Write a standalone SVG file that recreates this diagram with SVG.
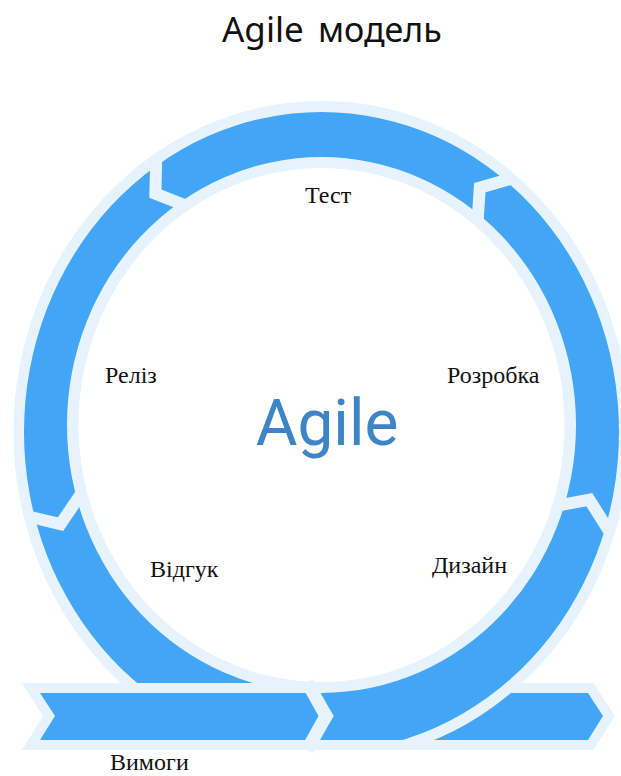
<svg xmlns="http://www.w3.org/2000/svg" width="621" height="776" viewBox="0 0 621 776">
<defs>
<style>
.pale{fill:#e6f3fd}
.blue{fill:#42a5f5}
.chev{fill:none;stroke:#e6f3fd;stroke-width:12;stroke-linejoin:miter}
.seg{stroke:#e6f3fd;stroke-width:20;stroke-linejoin:miter;fill:#e6f3fd}
.lbl{font-family:"Liberation Serif","Times New Roman",serif;font-size:24px;fill:#111}
.title{font-family:"Noto Sans","Open Sans",sans-serif;font-size:34px;fill:#111}
.center{font-family:Roboto,"Noto Sans",sans-serif;font-size:64px;fill:#3d85c6}
</style>
<clipPath id="clipPale"><rect x="0" y="0" width="621" height="750"/></clipPath>
<clipPath id="clipBlue"><rect x="0" y="0" width="621" height="740"/></clipPath>
<clipPath id="clipRing"><ellipse cx="321.5" cy="432" rx="308" ry="331"/></clipPath>
</defs>
<rect width="621" height="776" fill="#ffffff"/>
<g id="title"><text class="title" x="222" y="42" style="font-size:35px">Agile</text><text class="title" x="318" y="42">модель</text></g>
<g id="arrow-exit">
<polygon class="seg" points="360,693 588,693 603,716 588,740 360,740"/>
<polygon class="blue" points="360,693 588,693 603,716 588,740 360,740"/>
</g>
<g id="ring">
<path class="pale" fill-rule="evenodd" clip-path="url(#clipPale)" d="M13.5,432 a308,331 0 1,0 616,0 a308,331 0 1,0 -616,0 Z M78.5,425 a243,257 0 1,0 486,0 a243,257 0 1,0 -486,0 Z"/>
<path class="blue" fill-rule="evenodd" clip-path="url(#clipBlue)" d="M24,432 a297.5,320 0 1,0 595,0 a297.5,320 0 1,0 -595,0 Z M67,425 a254.5,268 0 1,0 509,0 a254.5,268 0 1,0 -509,0 Z"/>
</g>
<g id="connectors" clip-path="url(#clipRing)">
<polyline class="chev" points="557.5,505.7 589.3,499.6 610.2,532.9"/>
<polyline class="chev" points="477.6,221.9 479.8,187.7 512.5,178.4"/>
<polyline class="chev" points="186.4,205.9 155.4,193.7 156.2,158.2"/>
<polyline class="chev" points="81.9,492.6 60.5,524.2 28.3,516.5"/>
</g>
<g id="arrow-entry">
<polygon class="seg" points="40,693 307,693 322,716 307,740 40,740 55,716"/>
<polygon class="blue" points="40,693 307,693 322,716 307,740 40,740 55,716"/>
<polyline class="chev" style="stroke-width:13" points="307,682 326,716 307,750"/>
</g>
<g id="center-label"><text class="center" x="327" y="445" text-anchor="middle">Agile</text></g>
<g id="stage-test"><text class="lbl" x="305" y="203">Тест</text></g>
<g id="stage-release"><text class="lbl" x="105" y="383">Реліз</text></g>
<g id="stage-development"><text class="lbl" x="447" y="383">Розробка</text></g>
<g id="stage-feedback"><text class="lbl" x="150" y="577">Відгук</text></g>
<g id="stage-design"><text class="lbl" x="432" y="573">Дизайн</text></g>
<g id="stage-requirements"><text class="lbl" x="110" y="770">Вимоги</text></g>
</svg>
